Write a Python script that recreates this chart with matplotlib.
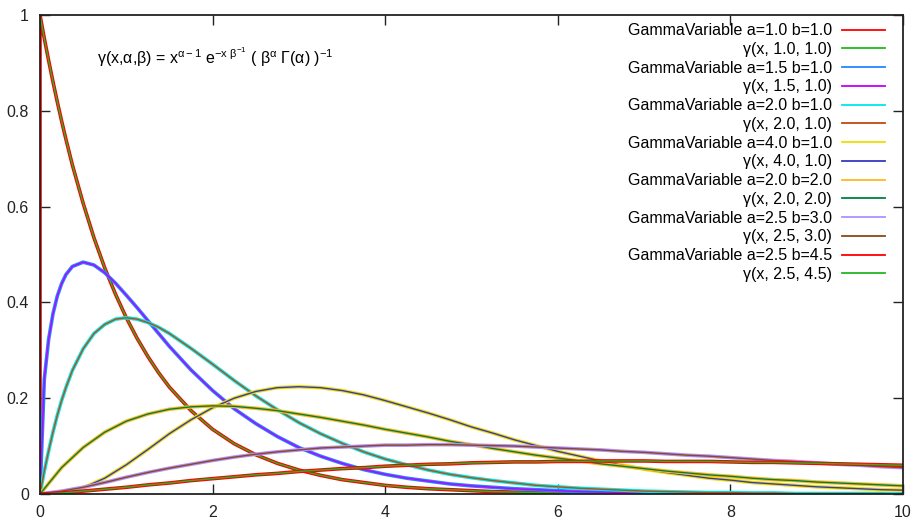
import numpy as np
import matplotlib
matplotlib.use("Agg")
import matplotlib.pyplot as plt

plt.rcParams['font.family'] = ['Liberation Sans', 'DejaVu Sans']
plt.rcParams['mathtext.fontset'] = 'custom'
plt.rcParams['mathtext.rm'] = 'Liberation Sans'
plt.rcParams['mathtext.it'] = 'Liberation Sans'
plt.rcParams['mathtext.default'] = 'regular'

# x sampling, extra points near 0 for the steep curves
x = np.linspace(0, 10, 41)
x_fine = [0.0, 0.05, 0.1, 0.15, 0.2, 0.25, 0.3, 0.375, 0.5, 0.625, 0.75, 0.875,
          1.0, 1.125, 1.25, 1.375] + list(x[6:])

# values (histogram and fitted curve lie on top of each other)
g_1_1 = [1.000, .951, .905, .861, .819, .779, .741, .687, .607, .535, .472, .417,
         .368, .325, .287, .253,
         .223, .174, .135, .105, .082, .064, .050, .039, .030, .024, .018, .014,
         .011, .009, .007, .005, .004, .003, .002, .002, .002, .001, .001, .001,
         .001, 0, 0, 0, 0, 0, 0, 0, 0, 0, 0]
g_15_1 = [0.0, .240, .323, .376, .413, .439, .458, .475, .484, .478, .462, .440,
          .415, .389, .362, .335,
          .308, .259, .216, .178, .147, .120, .097, .079, .064, .051, .041, .033,
          .027, .021, .017, .014, .011, .009, .007, .005, .004, .003, .003, .002,
          .002, .001, .001, .001, .001, 0, 0, 0, 0, 0, 0]
g_2_1 = [0.0, .048, .090, .129, .164, .195, .222, .258, .303, .335, .354, .365,
         .368, .365, .358, .348,
         .335, .304, .271, .237, .205, .176, .149, .126, .106, .088, .073, .061,
         .050, .041, .034, .028, .023, .018, .015, .012, .010, .008, .006, .005,
         .004, .003, .003, .002, .002, .001, .001, .001, .001, .001, .000]
g_4_1 = [0, .002, .013, .033, .061, .093, .126, .155, .180, .200, .214, .222, .224,
         .222, .216, .207, .195, .182, .169, .155, .140, .127, .113, .101, .089,
         .079, .069, .060, .052, .045, .039, .033, .029, .024, .021, .018, .015,
         .013, .011, .009, .008]
g_2_2 = [0, .055, .097, .129, .152, .167, .177, .182, .184, .183, .179, .174, .167,
         .160, .152, .144, .135, .127, .119, .110, .103, .095, .088, .081, .075,
         .069, .063, .058, .053, .048, .044, .040, .037, .033, .030, .028, .025,
         .023, .021, .019, .017]
g_25_3 = [0, .006, .014, .024, .035, .045, .054, .062, .070, .077, .083, .088, .092,
          .096, .098, .100, .102, .102, .103, .103, .102, .101, .100, .098, .096,
          .094, .092, .089, .087, .084, .081, .079, .076, .073, .070, .068, .065,
          .062, .060, .057, .055]
g_25_45 = [0, .002, .006, .010, .014, .019, .023, .028, .032, .036, .040, .043, .047,
           .050, .053, .055, .058, .060, .062, .063, .065, .066, .067, .067, .068,
           .068, .069, .069, .069, .068, .068, .068, .067, .066, .066, .065, .064,
           .063, .062, .061, .060]

params = ["1.0 1.0", "1.5 1.0", "2.0 1.0", "4.0 1.0", "2.0 2.0", "2.5 3.0", "2.5 4.5"]
series = [(x_fine, g_1_1), (x_fine, g_15_1), (x_fine, g_2_1), (x, g_4_1),
          (x, g_2_2), (x, g_25_3), (x, g_25_45)]
hist_colors = ["#ff0000", "#1e88ff", "#00e8e8", "#eee000", "#ffb820", "#b090ff", "#ff0000"]
curve_colors = ["#22b822", "#c000ff", "#c04a10", "#3838c0", "#008040", "#8a4a1a", "#22b822"]

fig = plt.figure(figsize=(9.17, 5.2), dpi=100)
ax = fig.add_axes([40/917, 26/520, 863/917, 479/520])

for i in range(len(params)):
    a, b = params[i].split()
    xs, ys = series[i]
    if i == 0:
        # histogram starts from zero at the first bin
        ax.plot([0.0] + list(xs), [0.0] + list(ys), color=hist_colors[i], lw=2.6,
                label="GammaVariable a=%s b=%s" % (a, b))
    else:
        ax.plot(xs, ys, color=hist_colors[i], lw=2.6,
                label="GammaVariable a=%s b=%s" % (a, b))
    ax.plot(xs, ys, color=curve_colors[i], lw=1.0, label="γ(x, %s, %s)" % (a, b))

ax.set_xlim(0, 10)
ax.set_ylim(0, 1)
ax.set_xticks([0, 2, 4, 6, 8, 10])
ax.set_yticks([0, 0.2, 0.4, 0.6, 0.8, 1])
ax.set_yticklabels(["0", "0.2", "0.4", "0.6", "0.8", "1"])
ax.tick_params(direction='in', length=7, width=1, labelsize=11.5, pad=8,
               top=True, right=True, colors='#222222')
for s in ax.spines.values():
    s.set_linewidth(1.3)
    s.set_color('#222222')

ax.text(0.66, 0.912,
        "γ(x,α,β) = x$^{α−1}$ e$^{-x\\ β^{-1}}$ ( β$^{α}$ Γ(α) )$^{-1}$",
        fontsize=11.5, va='center', ha='left')

leg = ax.legend(loc='upper right', bbox_to_anchor=(0.979, 0.983), frameon=False,
                markerfirst=False, fontsize=11.5, handlelength=2.7, handletextpad=0.6,
                labelspacing=0.235, borderpad=0, borderaxespad=0)
for line in leg.get_lines():
    line.set_linewidth(1.3)

plt.savefig("out.png", dpi=100)
